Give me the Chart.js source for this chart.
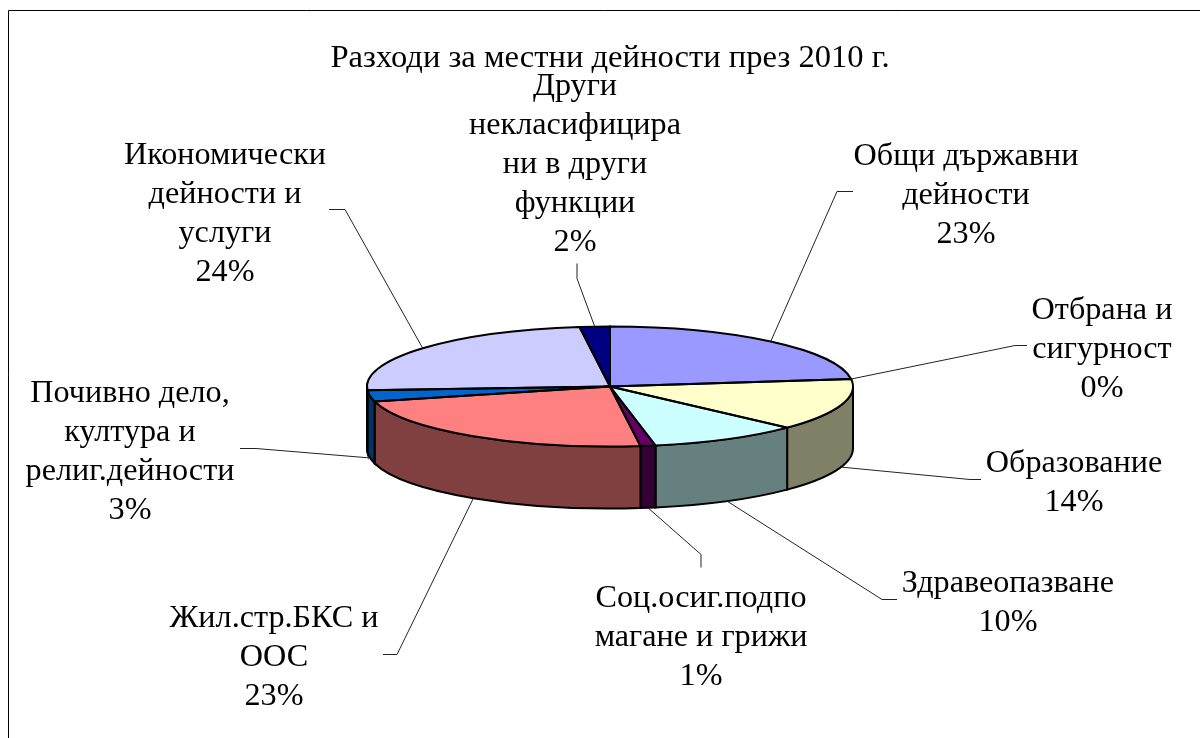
<!DOCTYPE html>
<html lang="bg">
<head>
<meta charset="utf-8">
<title>Разходи за местни дейности през 2010 г.</title>
<script src="https://cdn.jsdelivr.net/npm/chart.js@4"></script>
<style>
    html, body { margin: 0; padding: 0; background: #fff; }
    #wrap { position: relative; width: 1200px; height: 738px; }
</style>
</head>
<body>
<div id="wrap"><canvas id="chartRazhodi"></canvas></div>
<script>
const chartTitle = 'Разходи за местни дейности през 2010 г.';
const categories = [
    ['Общи държавни', 'дейности'],
    ['Отбрана и', 'сигурност'],
    ['Образование'],
    ['Здравеопазване'],
    ['Соц.осиг.подпо', 'магане и грижи'],
    ['Жил.стр.БКС и', 'ООС'],
    ['Почивно дело,', 'култура и', 'религ.дейности'],
    ['Икономически', 'дейности и', 'услуги'],
    ['Други', 'некласифицира', 'ни в други', 'функции']
];
const values = [23, 0, 14, 10, 1, 23, 3, 24, 2];

const topColors = ['#9999FF', '#993366', '#FFFFCC', '#CCFFFF', '#660066', '#FF8080', '#0066CC', '#CCCCFF', '#000080'];
const sideColors = ['#4D4D80', '#4D1A33', '#808066', '#668080', '#330033', '#804040', '#003366', '#666680', '#000040'];

// label placement, same order as categories: centre x, first line y
const labelX = [966, 1102, 1074, 1008, 701, 274, 130, 225, 575];
const labelY = [157, 311, 464, 584, 599, 619, 394, 156, 87];
// leader lines: elbow and the end of the short stub next to the label
const elbowPoints = [[837, 191], [1015, 345], [970, 479], [882, 599], [701, 554], [397, 654], [256, 448], [345, 209], [577, 278]];
const stubPoints = [[853, 191], [1027, 345], [981, 479], [897, 599], [701, 567], [383, 654], [240, 448], [329, 209], [577, 263]];

const FONT = '32.2px "Liberation Serif", "Times New Roman", serif';
const LINE_HEIGHT = 39;
const TILT = 60 / 243;
const DEPTH = 62;

// the pie is a normal Chart.js pie, squashed here and given a side wall
const pie3d = {
    id: 'pie3d',
    beforeDatasetsDraw(chart) {
        const ctx = chart.ctx;
        const arcs = chart.getDatasetMeta(0).data;
        const { x: cx, y: cy, outerRadius: r } = arcs[0];

        arcs.forEach(function (arc, i) {
            const a = Math.max(arc.startAngle, 0);
            const b = Math.min(arc.endAngle, Math.PI);
            if (a >= b) return;
            ctx.beginPath();
            ctx.ellipse(cx, cy, r, r * TILT, 0, a, b);
            ctx.ellipse(cx, cy + DEPTH, r, r * TILT, 0, b, a, true);
            ctx.closePath();
            ctx.fillStyle = sideColors[i];
            ctx.fill();
            ctx.lineWidth = 2;
            ctx.strokeStyle = '#000';
            ctx.stroke();
        });

        ctx.save();
        ctx.translate(cx, cy);
        ctx.scale(1, TILT);
        ctx.translate(-cx, -cy);
    },
    afterDatasetsDraw(chart) {
        const ctx = chart.ctx;
        ctx.restore();

        const arcs = chart.getDatasetMeta(0).data;
        const { x: cx, y: cy, outerRadius: r } = arcs[0];

        // outlines of the top face
        ctx.lineWidth = 2;
        ctx.strokeStyle = '#000';
        arcs.forEach(function (arc) {
            if (arc.endAngle <= arc.startAngle) return;
            ctx.beginPath();
            ctx.moveTo(cx, cy);
            ctx.ellipse(cx, cy, r, r * TILT, 0, arc.startAngle, arc.endAngle);
            ctx.closePath();
            ctx.stroke();
        });

        // leader lines, from the middle of each slice's rim
        ctx.lineWidth = 1;
        ctx.strokeStyle = '#222';
        arcs.forEach(function (arc, i) {
            const mid = (arc.startAngle + arc.endAngle) / 2;
            const ax = cx + r * Math.cos(mid);
            let ay = cy + r * TILT * Math.sin(mid);
            if (Math.sin(mid) > 0) ay += DEPTH;
            ctx.beginPath();
            ctx.moveTo(ax, ay);
            ctx.lineTo(elbowPoints[i][0], elbowPoints[i][1] + 0.5);
            ctx.lineTo(stubPoints[i][0], stubPoints[i][1] + 0.5);
            ctx.stroke();
        });

        // data labels
        ctx.font = FONT;
        ctx.fillStyle = '#000';
        ctx.textAlign = 'center';
        ctx.textBaseline = 'middle';
        categories.forEach(function (lines, i) {
            lines.concat(values[i] + '%').forEach(function (line, n) {
                ctx.fillText(line, labelX[i], labelY[i] + n * LINE_HEIGHT);
            });
        });

        // frame, only left and top edges are in the picture
        ctx.lineWidth = 1;
        ctx.strokeStyle = '#000';
        ctx.beginPath();
        ctx.moveTo(8.5, 738);
        ctx.lineTo(8.5, 10.5);
        ctx.lineTo(1200, 10.5);
        ctx.stroke();
    }
};

document.addEventListener('DOMContentLoaded', function () {
    const ctx = document.getElementById('chartRazhodi').getContext('2d');

    new Chart(ctx, {
        type: 'pie',
        data: {
            labels: categories,
            datasets: [{
                data: values,
                backgroundColor: topColors,
                borderWidth: 0,
                radius: 243,
                clip: false
            }]
        },
        options: {
            responsive: true,
            maintainAspectRatio: false,
            animation: false,
            layout: {
                padding: { left: 20, right: 0, top: 0, bottom: 43 }
            },
            plugins: {
                legend: { display: false },
                tooltip: { enabled: false },
                title: {
                    display: true,
                    text: chartTitle,
                    color: '#000',
                    font: { family: '"Liberation Serif", "Times New Roman", serif', size: 32.6, weight: 'normal' },
                    padding: { top: 39, bottom: 0 }
                }
            }
        },
        plugins: [pie3d]
    });
});
</script>
</body>
</html>
